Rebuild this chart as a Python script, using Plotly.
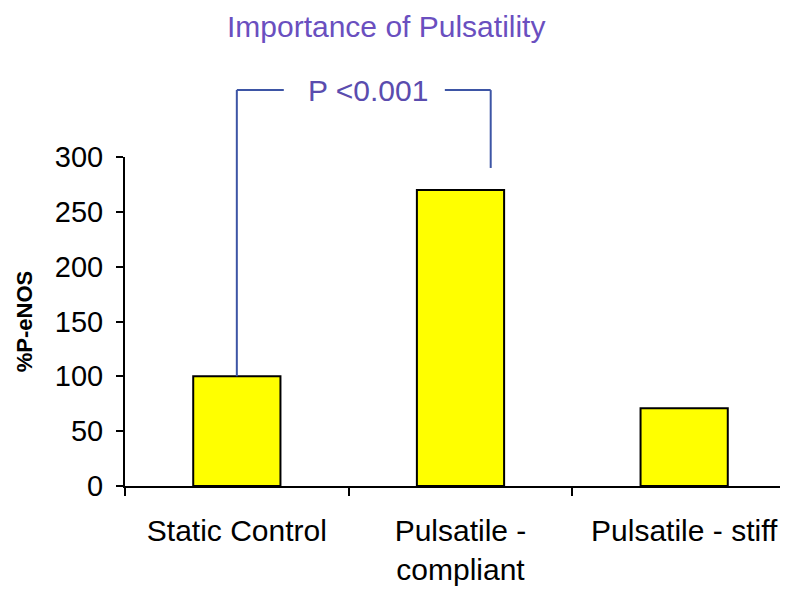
import plotly.graph_objects as go

# veri
categories = ["Static Control", "Pulsatile -<br>compliant", "Pulsatile - stiff"]
peNOS = [100, 270, 71]
y_ticks = [0, 50, 100, 150, 200, 250, 300]
y_max = 300
p_label = "P <0.001"

FONT = "Liberation Sans, Arial, sans-serif"
BLUE = "#3d55a5"

fig = go.Figure()

fig.add_trace(go.Bar(
    x=categories,
    y=peNOS,
    width=0.39,
    marker=dict(color="#ffff00", line=dict(color="black", width=2)),
    showlegend=False
))

# anlamlılık köşeli parantezi (Static vs compliant), y ekseni paper oranında
top = 361 / y_max
fig.add_shape(type="line", xref="x", yref="paper", x0=0, x1=0, y0=peNOS[0] / y_max, y1=top,
              line=dict(color=BLUE, width=2))
fig.add_shape(type="line", xref="x", yref="paper", x0=0, x1=0.21, y0=top, y1=top,
              line=dict(color=BLUE, width=2))
fig.add_shape(type="line", xref="x", yref="paper", x0=0.93, x1=1.135, y0=top, y1=top,
              line=dict(color=BLUE, width=2))
fig.add_shape(type="line", xref="x", yref="paper", x0=1.135, x1=1.135, y0=top, y1=290 / y_max,
              line=dict(color=BLUE, width=2))
fig.add_annotation(x=0.585, y=top, xref="x", yref="paper", text=p_label, showarrow=False,
                   xanchor="center", yanchor="middle",
                   font=dict(family=FONT, size=30, color="#5a4cae"))

fig.update_layout(
    width=788,
    height=593,
    margin=dict(l=117, r=0, t=149, b=115),
    plot_bgcolor="white",
    paper_bgcolor="white",
    title=dict(text="Importance of Pulsatility", x=0.48, xanchor="center",
               y=1 - 18 / 593, yanchor="middle",
               font=dict(family=FONT, size=30, color="#6a4fbf")),
    xaxis=dict(
        range=[-0.5, 2.5],
        showline=True, linecolor="black", linewidth=2,
        ticks="outside", tickson="boundaries", ticklen=8, tickwidth=2, tickcolor="black",
        tickfont=dict(family=FONT, size=30, color="black"),
        ticklabelstandoff=17
    ),
    yaxis=dict(
        range=[0, y_max],
        tickvals=y_ticks,
        showline=True, linecolor="black", linewidth=2,
        ticks="outside", ticklen=7, tickwidth=2, tickcolor="black",
        showgrid=False, zeroline=False,
        tickfont=dict(family=FONT, size=29, color="black"),
        ticklabelstandoff=7,
        title=dict(text="%P-eNOS", standoff=16,
                   font=dict(family=FONT, size=22, color="black", weight="bold"))
    ),
    bargap=0.61
)

fig.write_html("out.html")
